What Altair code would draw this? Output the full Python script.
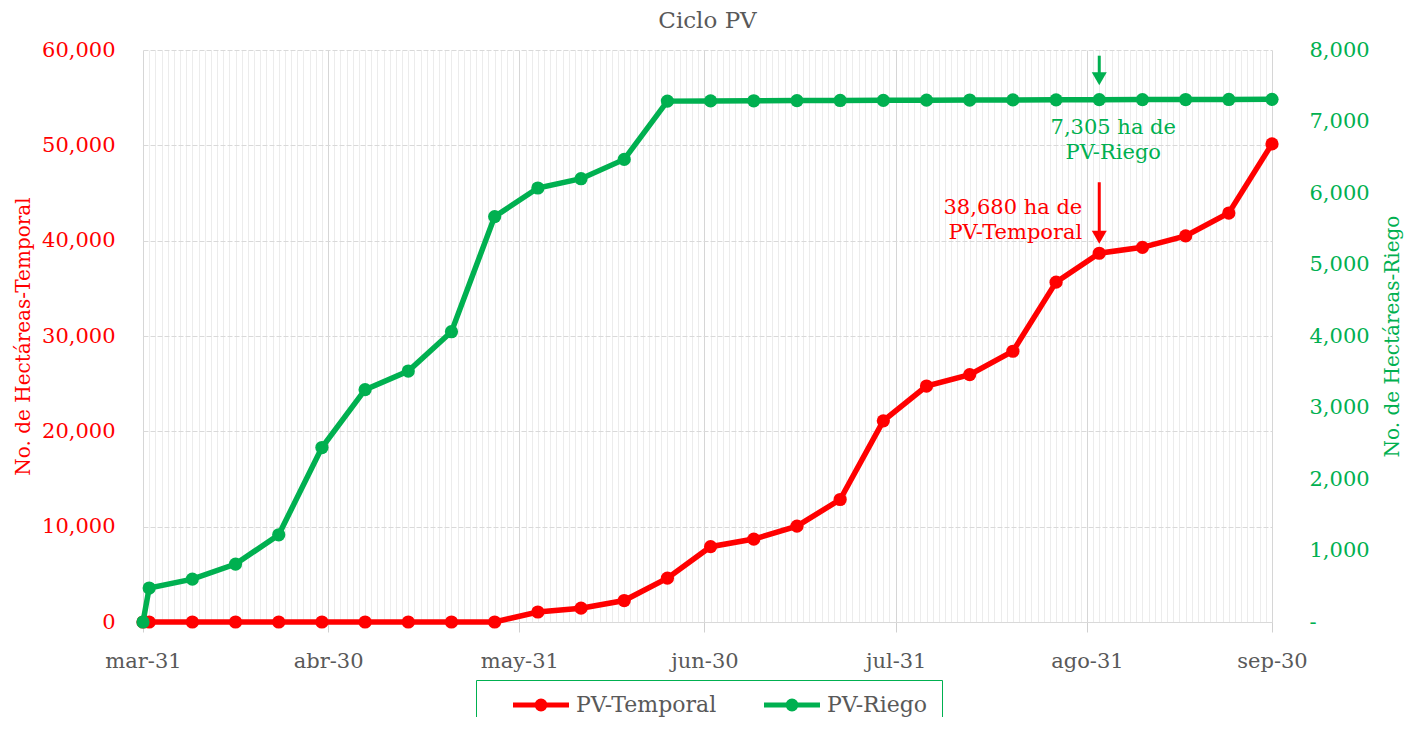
import altair as alt
import pandas as pd

FONT = "DejaVu Serif"

dates = ["2023-03-31", "2023-04-01", "2023-04-08", "2023-04-15", "2023-04-22", "2023-04-29",
         "2023-05-06", "2023-05-13", "2023-05-20", "2023-05-27", "2023-06-03", "2023-06-10",
         "2023-06-17", "2023-06-24", "2023-07-01", "2023-07-08", "2023-07-15", "2023-07-22",
         "2023-07-29", "2023-08-05", "2023-08-12", "2023-08-19", "2023-08-26", "2023-09-02",
         "2023-09-09", "2023-09-16", "2023-09-23", "2023-09-30"]
temporal = [0, 0, 0, 0, 0, 0, 0, 0, 0, 0, 1050, 1450, 2250, 4600, 7900, 8700, 10050, 12850,
            21100, 24750, 25950, 28400, 35650, 38680, 39300, 40500, 42900, 50150]
riego = [0, 475, 600, 810, 1220, 2440, 3250, 3510, 4060, 5670, 6070, 6200, 6470, 7285, 7288,
         7290, 7292, 7294, 7296, 7298, 7300, 7302, 7303, 7305, 7306, 7307, 7308, 7310]
series_names = ["PV-Temporal", "PV-Riego"]
colors = ["#FF0000", "#00B050"]
month_abbr = ["ene", "feb", "mar", "abr", "may", "jun", "jul", "ago", "sep", "oct", "nov", "dic"]
left_ticks = [0, 10000, 20000, 30000, 40000, 50000, 60000]
right_ticks = [0, 1000, 2000, 3000, 4000, 5000, 6000, 7000, 8000]
annot_dates = ["2023-09-02", "2023-09-02"]
annot_values = [38680, 7305]

n = len(dates)
df = pd.DataFrame({
    "date": dates * 2,
    "value": temporal + riego,
    "series": [series_names[0]] * n + [series_names[1]] * n,
})
ann_t = pd.DataFrame({"date": [annot_dates[0]], "value": [annot_values[0]],
                      "label": [f"{annot_values[0]:,} ha de\n{series_names[0]}"]})
ann_r = pd.DataFrame({"date": [annot_dates[1]], "value": [annot_values[1]],
                      "label": [f"{annot_values[1]:,} ha de\n{series_names[1]}"]})

# daily axis positions (grid structure)
days = pd.date_range(dates[0], dates[-1], freq="D")
day_ms = [int(d.value // 10**6) for d in days]

is_month_end = "utcdate(time(datum.value) + 86400000) == 1"
months_js = "[" + ",".join(f"'{m}'" for m in month_abbr) + "]"

X = alt.X(
    "date:T",
    scale=alt.Scale(type="utc", domain=[day_ms[0], day_ms[-1]]),
    axis=alt.Axis(
        title=None, values=day_ms, labelOverlap=False, labelFlush=False,
        labelExpr=f"{is_month_end} ? {months_js}[utcmonth(time(datum.value))] + '-' + utcdate(time(datum.value)) : ''",
        labelColor="#595959", labelFont=FONT, labelFontSize=21, labelPadding=18,
        tickSize=10,
        tickColor={"condition": {"test": is_month_end, "value": "#d0d0d0"}, "value": "transparent"},
        grid=True,
        gridColor={"condition": {"test": is_month_end, "value": "#d6d6d6"}, "value": "#ececec"},
        gridWidth=1, domainColor="#d9d9d9",
    ),
)

Y_left = alt.Y(
    "value:Q",
    scale=alt.Scale(domain=[0, 60000]),
    axis=alt.Axis(
        title="No. de Hectáreas-Temporal", values=left_ticks,
        labelExpr="format(datum.value, ',')",
        labelColor="#FF0000", titleColor="#FF0000", labelFont=FONT, titleFont=FONT,
        labelFontSize=21, titleFontSize=20, titleFontWeight="normal",
        grid=True, gridDash=[5, 2], gridColor="#d9d9d9", domain=False, ticks=False,
        labelPadding=28, titlePadding=8,
    ),
)
Y_right = alt.Y(
    "value:Q",
    scale=alt.Scale(domain=[0, 8000]),
    axis=alt.Axis(
        orient="right", title="No. de Hectáreas-Riego", values=right_ticks,
        labelExpr="datum.value == 0 ? '-' : format(datum.value, ',')",
        labelColor="#00B050", titleColor="#00B050", labelFont=FONT, titleFont=FONT,
        labelFontSize=21, titleFontSize=20, titleFontWeight="normal", titleAngle=270,
        grid=False, domain=False, ticks=False, labelPadding=37, titlePadding=33,
    ),
)

legend = alt.Legend(
    title=None, orient="none", legendX=333, legendY=630, direction="horizontal",
    symbolType="M-4,0L4,0M0.57,0A0.57,0.57,0,1,1,-0.57,0A0.57,0.57,0,1,1,0.57,0Z",
    symbolSize=196, symbolStrokeWidth=5, symbolOffset=40, symbolOpacity=1,
    labelOffset=24, labelFont=FONT, labelFontSize=22, labelColor="#595959",
    strokeColor="#00B050", padding=14, columnPadding=24,
)
color_scale = alt.Scale(domain=series_names, range=colors)
stroke_enc = alt.Stroke("series:N", scale=color_scale, legend=legend)
fill_enc = alt.Fill("series:N", scale=color_scale, legend=legend)


def series_group(name, Y, ann_df, color, rule_off, head_off, text_kw):
    base = alt.Chart(df).transform_filter(alt.datum.series == name)
    line = base.mark_line(strokeWidth=5.5).encode(x=X, y=Y, stroke=stroke_enc)
    pts = base.mark_circle(size=175, opacity=1).encode(x=X, y=Y, fill=fill_enc)
    a = alt.Chart(ann_df)
    rule = a.mark_rule(color=color, strokeWidth=3, yOffset=rule_off[0], y2Offset=rule_off[1]).encode(
        x=X, y=Y, y2=alt.Y2("value"))
    head = a.mark_point(shape="triangle-down", filled=True, size=225, color=color, opacity=1,
                        yOffset=head_off).encode(x=X, y=Y)
    txt = a.mark_text(font=FONT, fontSize=21, color=color, lineBreak="\n", lineHeight=25,
                      baseline="top", **text_kw).encode(x=X, y=Y, text="label:N")
    return alt.layer(line, pts, rule, head, txt)


g_t = series_group(series_names[0], Y_left, ann_t, colors[0], (-71, -22), -16,
                   dict(align="right", dx=-17, dy=-56))
g_r = series_group(series_names[1], Y_right, ann_r, colors[1], (-44, -26), -21,
                   dict(align="center", dx=14, dy=17))

chart = alt.layer(g_t, g_r).resolve_scale(y="independent").properties(
    width=1129, height=572,
    padding={"left": 135, "top": 42, "right": 133, "bottom": 95},
    autosize=alt.AutoSizeParams(type="none"),
    title=alt.TitleParams("Ciclo PV", font=FONT, fontSize=23, color="#595959",
                          fontWeight="normal", offset=6, anchor="middle"),
).configure_view(stroke=None)

chart.save("out.html", embed_options={"renderer": "svg", "actions": False})
